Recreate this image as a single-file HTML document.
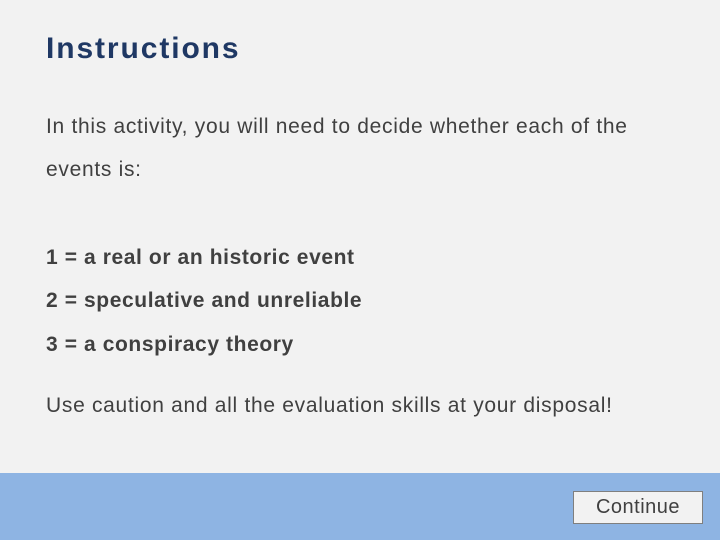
<!DOCTYPE html>
<html><head><style>
body{margin:0;width:720px;height:540px;background:#f2f2f2;position:relative;overflow:hidden;font-family:"Liberation Sans",sans-serif;color:#404040}
.t{position:absolute;left:46px;white-space:nowrap;font-size:21px;letter-spacing:0.7px}
h1{position:absolute;left:46px;top:32px;margin:0;font-size:30px;color:#1f3864;font-weight:bold;letter-spacing:1.9px}
b{font-weight:bold;letter-spacing:0.6px}
.bar{position:absolute;left:0;top:473px;width:720px;height:67px;background:#8eb4e3}
.btn{position:absolute;left:573px;top:491px;width:128px;height:31px;background:#f2f2f2;border:1px solid #7f7f7f;font-size:20px;text-align:center;line-height:31px;color:#404040;letter-spacing:0.5px}
</style></head><body>
<h1>Instructions</h1>
<div class="t" style="top:115px">In this activity, you will need to decide whether each of the</div>
<div class="t" style="top:158px">events is:</div>
<div class="t" style="top:246px"><b>1 = a real or an historic event</b></div>
<div class="t" style="top:289px"><b>2 = speculative and unreliable</b></div>
<div class="t" style="top:333px"><b>3 = a conspiracy theory</b></div>
<div class="t" style="top:394px">Use caution and all the evaluation skills at your disposal!</div>
<div class="bar"></div>
<div class="btn">Continue</div>
</body></html>
